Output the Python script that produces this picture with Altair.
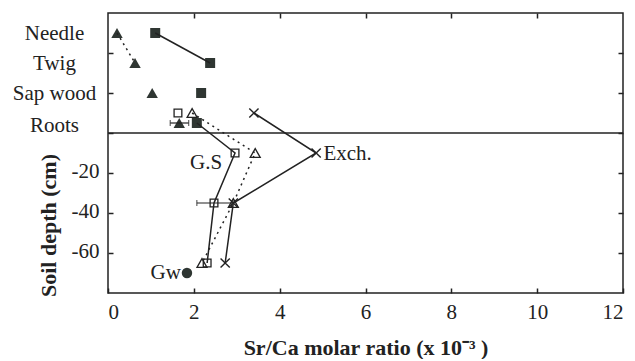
import altair as alt
import pandas as pd

# ---------------- data ----------------
organs = ["Needle", "Twig", "Sap wood", "Roots"]
organ_y = [50, 35, 20, 5]            # plotting row of each organ
organ_label_y = [50, 35, 20, 4]
tree_sq = [1.10, 2.38, 2.17, 2.07]   # filled squares
tree_tri = [0.21, 0.63, 1.03, 1.66]  # filled triangles

root_open_y = [10]
root_open_sq = [1.63]
root_open_tri = [1.96]
root_exch = [3.40]

soil_depth = [-10, -35, -65]
gs_sq = [2.96, 2.47, 2.31]           # open squares (G.S)
gs_tri = [3.43, 2.92, 2.19]          # open triangles
exch = [4.85, 2.92, 2.73]            # crosses (Exch.)

gw_x = [1.84]
gw_y = [-70]

err_y = [-35, 5]
err_lo = [2.07, 1.45]
err_hi = [2.89, 1.88]

surface = [0]

x_ticks = [0, 2, 4, 6, 8, 10, 12]
x_top_ticks = [2, 4, 6, 8, 10]
y_ticks = [-60, -40, -20, 0, 20, 40]

annot_r_text = ["G.S", "Gw"]
annot_r_x = [2.66, 1.70]
annot_r_y = [-15, -70]
annot_l_text = ["Exch."]
annot_l_x = [5.02]
annot_l_y = [-10.5]

# ---------------- styling ----------------
INK = "#222222"
FILL = "#2f3632"
FONT = "Liberation Serif"
XS = alt.Scale(domain=[0, 12], nice=False, zero=False)
YS = alt.Scale(domain=[-80, 60], nice=False, zero=False)
XSHAPE = "M-1,-1L1,1M-1,1L1,-1"


def enc(xaxis=None, yaxis=None, xf="x", yf="y"):
    return dict(
        x=alt.X(xf, type="quantitative", scale=XS, axis=xaxis),
        y=alt.Y(yf, type="quantitative", scale=YS, axis=yaxis),
    )


def df(xs, ys, **extra):
    d = pd.DataFrame({"x": xs, "y": ys})
    d["seq"] = range(len(d))
    for k, v in extra.items():
        d[k] = v
    return d


axis_bottom = alt.Axis(
    orient="bottom", offset=-5, values=x_ticks, domain=False, grid=False,
    tickSize=5, tickWidth=1.5, tickColor=INK,
    labelFont=FONT, labelFontSize=21, labelColor=INK, labelPadding=8,
    title="Sr/Ca molar ratio (x 10⁻³ )", titleFont=FONT, titleFontSize=22,
    titleFontWeight="bold", titleColor=INK, titleX=257.5, titleY=66,
    titleBaseline="alphabetic", titleAlign="center",
)
axis_left_num = alt.Axis(
    orient="left", offset=-5, values=y_ticks, domain=False, grid=False,
    tickSize=5, tickWidth=1.5, tickColor=INK,
    labelFont=FONT, labelFontSize=21, labelColor=INK, labelPadding=9,
    labelOffset=-2,
    labelExpr="datum.value < 0 ? '-' + abs(datum.value) : ''",
    title=None,
)
cat_expr = " : ".join(
    f"datum.value == {v} ? '{n}'" for v, n in zip(organ_label_y, organs)
) + " : ''"
axis_left_cat = alt.Axis(
    orient="left", offset=0, values=organ_label_y, domain=False, grid=False,
    ticks=False, tickSize=0, labelAlign="center", labelBaseline="middle",
    labelFont=FONT, labelFontSize=21, labelColor=INK, labelPadding=54,
    labelExpr=cat_expr,
    title="Soil depth (cm)", titleFont=FONT, titleFontSize=22,
    titleFontWeight="bold", titleColor=INK, titleX=-60, titleY=212,
    titleAlign="center", titleBaseline="middle", titleAngle=270,
)
axis_top = alt.Axis(
    orient="top", offset=-5, values=x_top_ticks, domain=False, grid=False,
    tickSize=5, tickWidth=1.5, tickColor=INK, labels=False, title=None,
)
axis_right = alt.Axis(
    orient="right", offset=-5, values=y_ticks, domain=False, grid=False,
    tickSize=5, tickWidth=1.5, tickColor=INK, labels=False, title=None,
)

# ---------------- layers ----------------
surface_rule = alt.Chart(pd.DataFrame({"y": surface})).mark_rule(
    color=INK, strokeWidth=1.5
).encode(y=alt.Y("y:Q", scale=YS, axis=None))

def line(d, dash=None):
    kw = dict(color=INK, strokeWidth=1.5)
    if dash:
        kw["strokeDash"] = dash
    return alt.Chart(d).mark_line(**kw).encode(order="seq:O", **enc())

l_sq_plant = line(df(tree_sq[:2], organ_y[:2]))
l_tri_plant = line(df(tree_tri[:2], organ_y[:2]), dash=[2, 4])
l_gs = line(df([tree_sq[3]] + gs_sq, [organ_y[3]] + soil_depth))
l_tri_soil = line(df(root_open_tri + gs_tri, root_open_y + soil_depth), dash=[2, 4])
l_exch = line(df(root_exch + exch, root_open_y + soil_depth))

err_df = pd.DataFrame({"y": err_y, "lo": err_lo, "hi": err_hi})
err_rule = alt.Chart(err_df).mark_rule(color=INK, strokeWidth=1.2).encode(
    x=alt.X("lo:Q", scale=XS, axis=None), x2="hi:Q",
    y=alt.Y("y:Q", scale=YS, axis=None))
err_cap_lo = alt.Chart(err_df).mark_tick(color=INK, thickness=1.2, size=6, orient="vertical").encode(
    **enc(xf="lo"))
err_cap_hi = alt.Chart(err_df).mark_tick(color=INK, thickness=1.2, size=6, orient="vertical").encode(
    **enc(xf="hi"))

p_fsq = alt.Chart(df(tree_sq, organ_y)).mark_point(
    shape="square", filled=True, size=100, color=FILL, opacity=1
).encode(**enc(axis_bottom, axis_left_num))

p_ftri = alt.Chart(df(tree_tri, organ_y)).mark_point(
    shape="triangle-up", filled=True, size=130, color=FILL, opacity=1
).encode(**enc(axis_top, axis_left_cat))

p_osq = alt.Chart(df(root_open_sq + gs_sq, root_open_y + soil_depth)).mark_point(
    shape="square", filled=False, size=60, color=INK, strokeWidth=1.3, opacity=1
).encode(**enc(None, axis_right))

p_otri = alt.Chart(df(root_open_tri + gs_tri, root_open_y + soil_depth)).mark_point(
    shape="triangle-up", filled=False, size=100, color=INK, strokeWidth=1.3, opacity=1
).encode(**enc())

p_x = alt.Chart(df(root_exch + exch, root_open_y + soil_depth)).mark_point(
    shape=XSHAPE, filled=False, size=85, color=INK, strokeWidth=1.4, opacity=1
).encode(**enc())

p_gw = alt.Chart(df(gw_x, gw_y)).mark_point(
    shape="circle", filled=True, size=110, color=FILL, opacity=1
).encode(**enc())

t_r = alt.Chart(pd.DataFrame({"x": annot_r_x, "y": annot_r_y, "t": annot_r_text})).mark_text(
    align="right", baseline="middle", font=FONT, fontSize=21, color=INK
).encode(text="t:N", **enc())
t_l = alt.Chart(pd.DataFrame({"x": annot_l_x, "y": annot_l_y, "t": annot_l_text})).mark_text(
    align="left", baseline="middle", font=FONT, fontSize=21, color=INK
).encode(text="t:N", **enc())

chart = alt.layer(
    p_fsq, p_ftri, p_osq,
    surface_rule, l_sq_plant, l_tri_plant, l_gs, l_tri_soil, l_exch,
    err_rule, err_cap_lo, err_cap_hi,
    p_otri, p_x, p_gw, t_r, t_l,
).resolve_axis(x="independent", y="independent").properties(
    width=515, height=280,
    autosize=alt.AutoSizeParams(type="none"),
    padding={"left": 100, "top": 5, "right": 4, "bottom": 66},
    background="white",
).configure_view(stroke=INK, strokeWidth=1.5)

chart.save("out.html", embed_options={"renderer": "svg", "actions": False})
